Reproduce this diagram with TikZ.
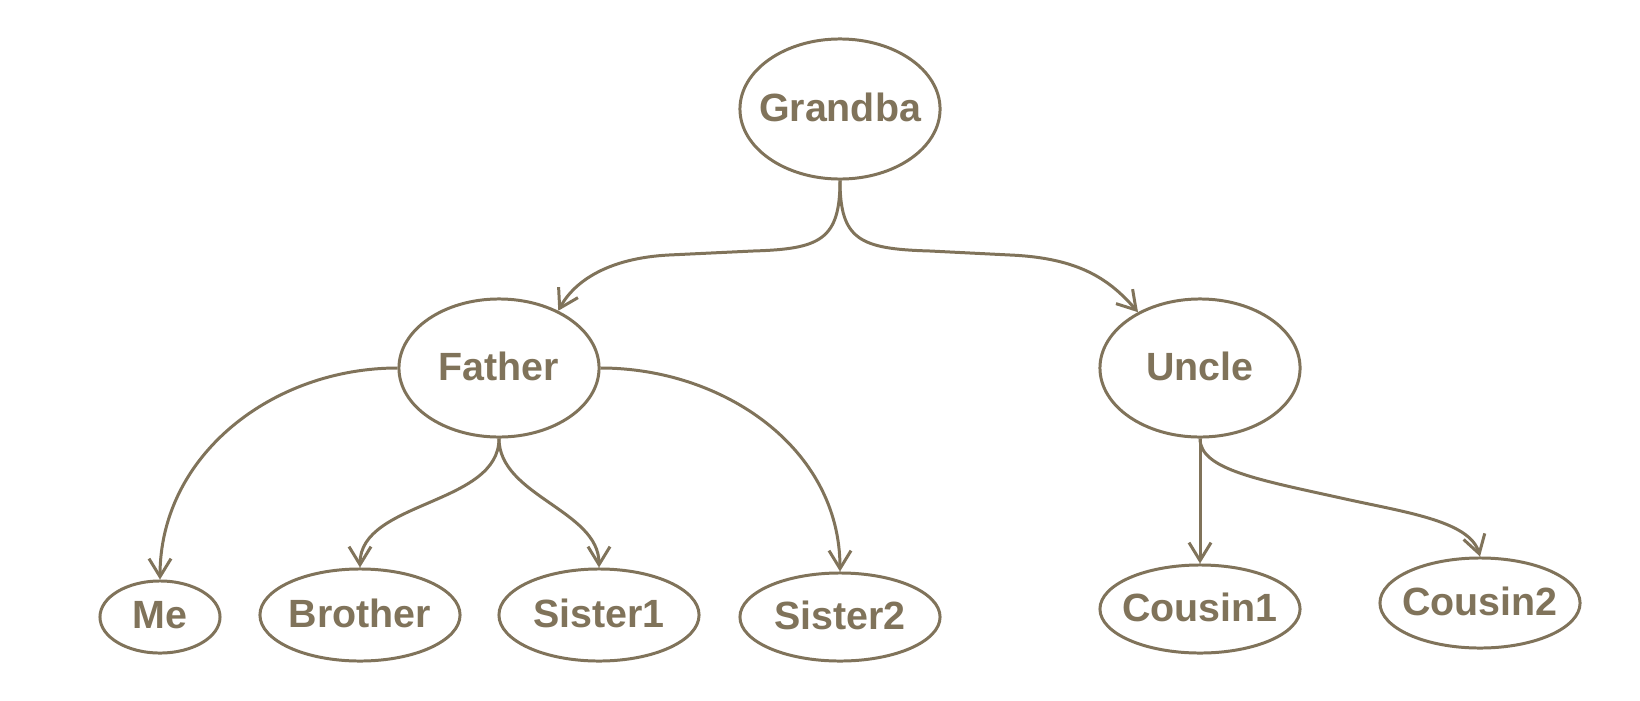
\documentclass[tikz,border=0pt]{standalone}
\usepackage{fontspec}
\setmainfont{Liberation Sans}
\usetikzlibrary{shapes.geometric,arrows.meta}
\definecolor{ink}{RGB}{128,115,90}
\newcommand{\who}[1]{\makebox[0pt]{\raisebox{0.9pt}{#1}}}
\begin{document}
\begin{tikzpicture}[x=0.01cm,y=-0.01cm,
  person/.style={ellipse,draw=ink,line width=0.85pt,inner sep=0pt,text=ink,
    font=\fontsize{11.2}{13}\selectfont\bfseries},
  link/.style={draw=ink,line width=0.85pt,-{Straight Barb[length=1.8mm,width=2.2mm,line width=0.85pt]}}]
\useasboundingbox[fill=white] (0,0) rectangle (1640,700);
\node[person,minimum width=2cm,minimum height=1.4cm] (g) at (840,109) {\who{Grandba}};
\node[person,minimum width=2cm,minimum height=1.38cm] (f) at (499,368) {\who{Father}};
\node[person,minimum width=2cm,minimum height=1.38cm] (u) at (1200,368) {\who{Uncle}};
\node[person,minimum width=1.2cm,minimum height=0.72cm] (me) at (160,617) {\who{Me}};
\node[person,minimum width=2cm,minimum height=0.92cm] (b) at (360,615) {\who{Brother}};
\node[person,minimum width=2cm,minimum height=0.92cm] (s1) at (599,615) {\who{Sister1}};
\node[person,minimum width=2cm,minimum height=0.88cm] (s2) at (840,617) {\who{Sister2}};
\node[person,minimum width=2cm,minimum height=0.88cm] (c1) at (1200,609) {\who{Cousin1}};
\node[person,minimum width=2cm,minimum height=0.9cm] (c2) at (1480,603) {\who{Cousin2}};
\draw[link] (g.south) .. controls (840,240) and (820,249) .. (753,251) -- (669,255) .. controls (610,258) and (575,280) .. (f.44);
\draw[link] (g.south) .. controls (840,240) and (860,249) .. (930,251) -- (1010,255) .. controls (1080,258) and (1110,280) .. (u.138);
\draw[link] (f.west) to[out=180,in=90] (me.north);
\draw[link] (f.east) to[out=0,in=90] (s2.north);
\draw[link] (f.south) to[out=-90,in=90,looseness=0.9] (b.north);
\draw[link] (f.south) to[out=-90,in=90,looseness=0.9] (s1.north);
\draw[link] (u.south) -- (c1.north);
\draw[link] (u.south) .. controls (1200,470) and (1260,480) .. (1350,500) .. controls (1410,513) and (1470,522) .. (c2.north);
\end{tikzpicture}
\end{document}
